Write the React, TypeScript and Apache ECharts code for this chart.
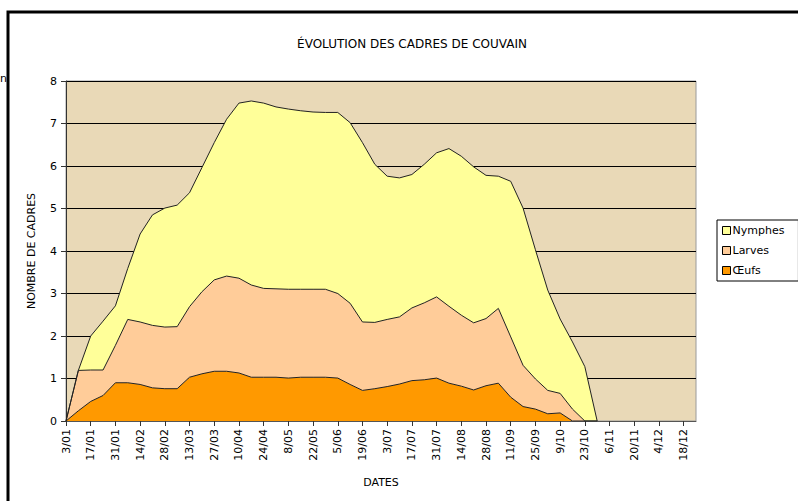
import React, { useEffect, useRef } from "react";
import * as echarts from "echarts";

const dates = [
  "3/01", "10/01", "17/01", "24/01", "31/01", "7/02", "14/02", "21/02", "28/02", "6/03",
  "13/03", "20/03", "27/03", "3/04", "10/04", "17/04", "24/04", "1/05", "8/05", "15/05",
  "22/05", "29/05", "5/06", "12/06", "19/06", "26/06", "3/07", "10/07", "17/07", "24/07",
  "31/07", "7/08", "14/08", "21/08", "28/08", "4/09", "11/09", "18/09", "25/09", "2/10",
  "9/10", "16/10", "23/10", "30/10", "6/11", "13/11", "20/11", "27/11", "4/12", "11/12",
  "18/12", "25/12",
];

const oeufs: (number | string)[] = [
  0, 0.24, 0.46, 0.6, 0.9, 0.9, 0.86, 0.78, 0.76, 0.76,
  1.03, 1.11, 1.17, 1.17, 1.13, 1.03, 1.03, 1.03, 1.01, 1.03,
  1.03, 1.03, 1.01, 0.86, 0.72, 0.76, 0.81, 0.87, 0.95, 0.97,
  1.01, 0.89, 0.82, 0.73, 0.83, 0.89, 0.56, 0.34, 0.28, 0.17,
  0.19, 0, 0, 0, "-", "-", "-", "-", "-", "-", "-", "-",
];

const larves: (number | string)[] = [
  0, 0.95, 0.74, 0.6, 0.88, 1.49, 1.47, 1.47, 1.45, 1.46,
  1.66, 1.93, 2.15, 2.24, 2.23, 2.17, 2.09, 2.08, 2.09, 2.07,
  2.07, 2.07, 1.99, 1.91, 1.61, 1.56, 1.58, 1.58, 1.71, 1.81,
  1.91, 1.81, 1.67, 1.58, 1.58, 1.76, 1.42, 0.97, 0.71, 0.55,
  0.46, 0.28, 0, 0, "-", "-", "-", "-", "-", "-", "-", "-",
];

const nymphes: (number | string)[] = [
  0, 0, 0.8, 1.15, 0.93, 1.2, 2.07, 2.6, 2.8, 2.86,
  2.68, 2.92, 3.23, 3.69, 4.12, 4.33, 4.36, 4.28, 4.24, 4.2,
  4.17, 4.16, 4.26, 4.25, 4.22, 3.72, 3.37, 3.27, 3.14, 3.26,
  3.39, 3.71, 3.74, 3.67, 3.37, 3.11, 3.66, 3.7, 3.04, 2.36,
  1.75, 1.58, 1.28, 0, "-", "-", "-", "-", "-", "-", "-", "-",
];

const yTicks = [0, 1, 2, 3, 4, 5, 6, 7, 8];

const FONT = "DejaVu Sans";

export default function App() {
  const ref = useRef<HTMLDivElement>(null);

  useEffect(() => {
    if (!ref.current) return;
    const chart = echarts.init(ref.current, null, { renderer: "svg" });
    const areaSeries = (name: string, data: (number | string)[], color: string) => ({
      name,
      type: "line",
      stack: "total",
      data,
      symbol: "none",
      smooth: false,
      lineStyle: { color: "#222", width: 1 },
      itemStyle: { color, borderColor: "#000", borderWidth: 1 },
      areaStyle: { color, opacity: 1 },
    });
    chart.setOption({
      animation: false,
      backgroundColor: "#ffffff",
      title: {
        text: "ÉVOLUTION DES CADRES DE COUVAIN",
        left: 407,
        textAlign: "center",
        top: 33,
        textStyle: { fontFamily: FONT, fontSize: 12, fontWeight: "normal", color: "#000" },
      },
      graphic: [
        {
          type: "rect",
          z: -10,
          shape: { x: 8, y: 12, width: 820, height: 520 },
          style: { fill: "none", stroke: "#000", lineWidth: 3 },
        },
        {
          type: "text",
          x: 0,
          y: 73,
          style: { text: "n", fontFamily: FONT, fontSize: 11, fill: "#000" },
        },
      ],
      legend: {
        orient: "vertical",
        left: 717,
        top: 220,
        data: ["Nymphes", "Larves", "Œufs"],
        backgroundColor: "#fff",
        borderColor: "#000",
        borderWidth: 1,
        borderRadius: 0,
        padding: [5, 14, 5, 5],
        itemGap: 9,
        itemWidth: 8,
        itemHeight: 8,
        icon: "rect",
        itemStyle: { borderColor: "#000", borderWidth: 1 },
        textStyle: { fontFamily: FONT, fontSize: 11, color: "#000", padding: [0, 0, 0, -3] },
      },
      grid: {
        left: 66,
        right: 102,
        top: 81,
        bottom: 80,
        show: true,
        backgroundColor: "#e9d9b7",
        borderColor: "#9a9a9a",
        borderWidth: 1,
      },
      xAxis: {
        type: "category",
        data: dates,
        boundaryGap: false,
        name: "DATES",
        nameLocation: "middle",
        nameGap: 56,
        nameTextStyle: { fontFamily: FONT, fontSize: 11, color: "#000" },
        axisLine: { show: true, lineStyle: { color: "#555", width: 1 } },
        axisTick: { show: true, interval: 1, length: 5, lineStyle: { color: "#333" } },
        axisLabel: {
          interval: 1,
          rotate: 90,
          margin: 8,
          fontFamily: FONT,
          fontSize: 11,
          color: "#000",
        },
        splitLine: { show: false },
      },
      yAxis: {
        type: "value",
        min: yTicks[0],
        max: yTicks[yTicks.length - 1],
        interval: 1,
        name: "NOMBRE DE CADRES",
        nameLocation: "middle",
        nameGap: 29,
        nameTextStyle: { fontFamily: FONT, fontSize: 11, color: "#000" },
        axisLine: { show: true, lineStyle: { color: "#333", width: 1 } },
        axisTick: { show: true, length: 5, lineStyle: { color: "#333" } },
        axisLabel: { fontFamily: FONT, fontSize: 11, color: "#000", margin: 9 },
        splitLine: { show: true, lineStyle: { color: "#000", width: 1 } },
      },
      series: [
        areaSeries("Œufs", oeufs, "#ff9900"),
        areaSeries("Larves", larves, "#ffcc99"),
        areaSeries("Nymphes", nymphes, "#ffff99"),
      ],
    });
    return () => chart.dispose();
  }, []);

  return (
    <div
      ref={ref}
      style={{ position: "absolute", left: 0, top: 0, width: 798, height: 501 }}
    />
  );
}
